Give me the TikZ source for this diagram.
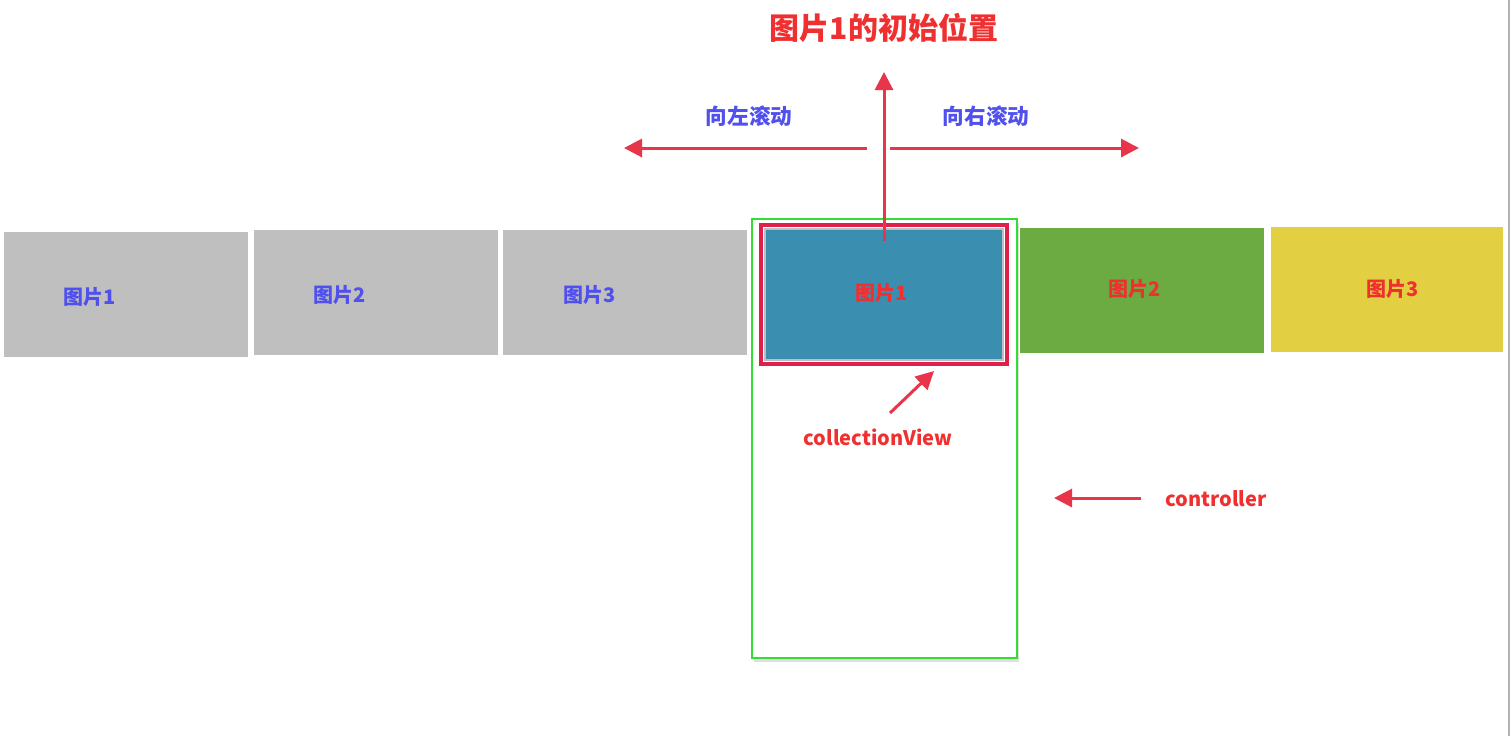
\documentclass[tikz,border=0pt]{standalone}
\usepackage{fontspec}
\setmainfont{Noto Sans CJK SC}
\usetikzlibrary{arrows.meta,shadows}

\definecolor{arrowred}{HTML}{E8354A}
\definecolor{textred}{HTML}{F03030}
\definecolor{textblue}{HTML}{5050EE}
\definecolor{boxgray}{HTML}{BFBFBF}
\definecolor{boxblue}{HTML}{3A8FB0}
\definecolor{boxgreen}{HTML}{6CAA42}
\definecolor{boxyellow}{HTML}{E2D042}
\definecolor{framegreen}{HTML}{33DD33}
\definecolor{framered}{HTML}{E0204A}

\begin{document}
\begin{tikzpicture}[x=0.5pt,y=-0.5pt]
\tikzset{every node/.style={inner sep=0pt},
  pic/.style={minimum width=122pt,minimum height=62.5pt,draw=none},
  bluelabel/.style={text=textblue,font=\bfseries\fontsize{10}{12}\selectfont},
  redlabel/.style={text=textred,font=\bfseries\fontsize{10}{12}\selectfont},
  redarrow/.style={draw=arrowred,line width=1.5pt,-{Triangle[length=9pt,width=9pt]}}}
\useasboundingbox (0,0) rectangle (1510,736);
\fill[white] (0,0) rectangle (1510,736);
\draw[gray!60,line width=1pt] (1508.5,0) -- (1508.5,736);
% pictures scrolled out to the left
\node[pic,fill=boxgray] (g1) at (126,294.5) {};
\node[bluelabel] (g1t) at (90,297) {图片1};
\node[pic,fill=boxgray] (g2) at (376,292.5) {};
\node[bluelabel] (g2t) at (340,295) {图片2};
\node[pic,fill=boxgray] (g3) at (624.5,292.5) {};
\node[bluelabel] (g3t) at (590,295) {图片3};
% controller frame
\node[draw=framegreen,line width=1pt,fill=white,minimum width=132.5pt,minimum height=219.5pt,
  drop shadow={shadow xshift=1pt,shadow yshift=-2pt,opacity=0.25,fill=gray}] (ctrl) at (884.5,438.5) {};
% collection view with picture 1
\node[draw=framered,line width=2pt,minimum width=123pt,minimum height=69.5pt] (cv) at (884,294.5) {};
\node[draw=gray!50,line width=0.6pt,fill=boxblue,minimum width=119pt,minimum height=65.5pt] (b1) at (884,294.5) {};
\node[redlabel] (b1t) at (882,293) {图片1};
\node[pic,fill=boxgreen] (b2) at (1141.5,290.5) {};
\node[redlabel] (b2t) at (1135,289) {图片2};
\node[pic,fill=boxyellow,minimum width=116pt] (b3) at (1387,289.5) {};
\node[redlabel] (b3t) at (1393,289) {图片3};
% title and scroll arrows
\node[text=textred,font=\bfseries\fontsize{15}{17}\selectfont] (title) at (884,28) {图片1的初始位置};
\coordinate (up0) at (884,241);
\coordinate (up1) at (884,72);
\draw[redarrow] (up0) -- (up1);
\coordinate (l0) at (867,148);
\coordinate (l1) at (624,148);
\draw[redarrow] (l0) -- (l1);
\coordinate (r0) at (890,148);
\coordinate (r1) at (1139,148);
\draw[redarrow] (r0) -- (r1);
\node[text=textblue,font=\bfseries\fontsize{10.8}{12}\selectfont] (lt) at (749,116) {向左滚动};
\node[text=textblue,font=\bfseries\fontsize{10.8}{12}\selectfont] (rt) at (986,116) {向右滚动};
% pointers
\coordinate (cv0) at (890,413);
\coordinate (cv1) at (934,371);
\draw[redarrow] (cv0) -- (cv1);
\node[redlabel] (cvt) at (878,437) {collectionView};
\coordinate (c0) at (1141,498);
\coordinate (c1) at (1054,498);
\draw[redarrow] (c0) -- (c1);
\node[redlabel] (ct) at (1216,499) {controller};
\end{tikzpicture}
\end{document}
